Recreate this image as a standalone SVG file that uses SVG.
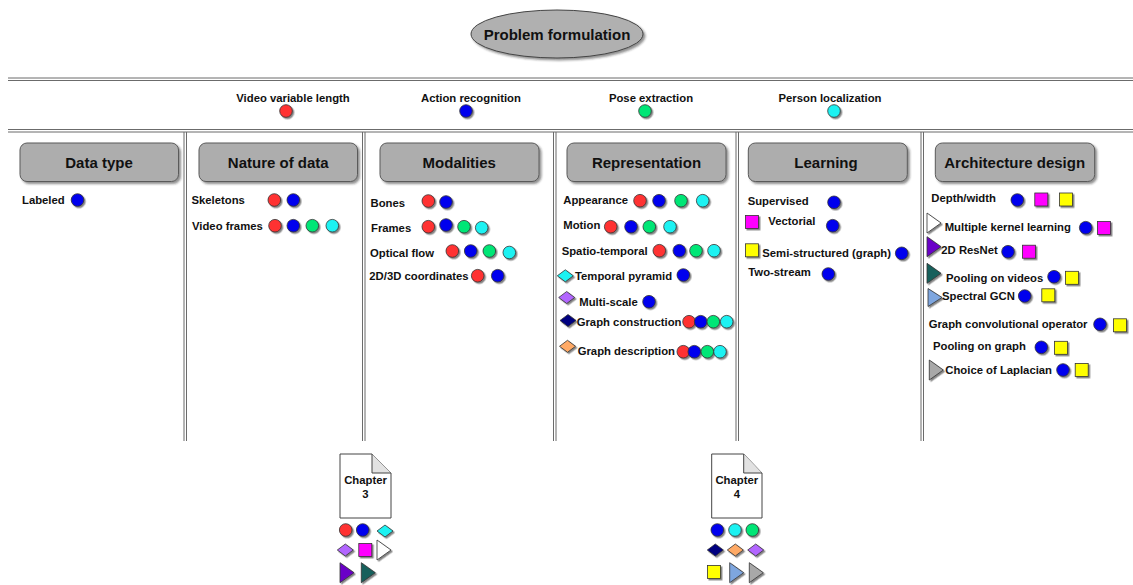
<svg xmlns="http://www.w3.org/2000/svg" xmlns:xlink="http://www.w3.org/1999/xlink" width="1133" height="585" viewBox="0 0 1133 585">
<style>
text{font-family:"Liberation Sans",Arial,sans-serif;font-weight:bold;fill:#111}
.t{font-size:11.3px}
.h{font-size:15px;text-anchor:middle}
.m{text-anchor:middle}
.sep{stroke:#6b6b6b;stroke-width:1;fill:none}
.hdr{fill:#adadad;stroke:#5a5a5a;stroke-width:1}
.sym{stroke:#333;stroke-width:0.8}
.red{fill:#ff3333}.blue{fill:#0000ee}.green{fill:#00e676}.cyan{fill:#1ef2f2}
.mag{fill:#ff00ff}.yel{fill:#ffff00}.navy{fill:#000080}.purp{fill:#b266ff}.orng{fill:#ffaa66}
.vio{fill:#6a00c8}.teal{fill:#17615b}.lblue{fill:#7ea6df}.gray{fill:#a8a8a8}.white{fill:#ffffff}
.doc{fill:#fff;stroke:#444;stroke-width:1}
</style>
<defs>
<filter id="sh" x="-30%" y="-30%" width="170%" height="170%"><feDropShadow dx="1.5" dy="1.5" stdDeviation="0.6" flood-color="#222" flood-opacity="0.55"/></filter>
<filter id="sh2" x="-10%" y="-10%" width="130%" height="140%"><feDropShadow dx="2" dy="2" stdDeviation="0.8" flood-color="#222" flood-opacity="0.5"/></filter>
<circle id="c" r="6.3" class="sym"/>
<rect id="s" x="-6.5" y="-6.5" width="13" height="13" class="sym"/>
<polygon id="d" points="0,-6 8,0 0,6 -8,0" class="sym"/>
<polygon id="tr" points="-7,-10 7,0 -7,10" class="sym"/>
<polygon id="trs" points="-7,-9 7,0 -7,9" class="sym"/>
</defs>

<g id="separators">
<line class="sep" x1="8" y1="78" x2="1133" y2="78"/><line class="sep" x1="8" y1="80.5" x2="1133" y2="80.5"/>
<line class="sep" x1="8" y1="129.5" x2="1133" y2="129.5"/><line class="sep" x1="8" y1="132" x2="1133" y2="132"/>
<line class="sep" x1="184" y1="132" x2="184" y2="441"/><line class="sep" x1="186.5" y1="132" x2="186.5" y2="441"/>
<line class="sep" x1="362.5" y1="132" x2="362.5" y2="441"/><line class="sep" x1="365" y1="132" x2="365" y2="441"/>
<line class="sep" x1="553.5" y1="132" x2="553.5" y2="441"/><line class="sep" x1="556" y1="132" x2="556" y2="441"/>
<line class="sep" x1="736" y1="132" x2="736" y2="441"/><line class="sep" x1="738.5" y1="132" x2="738.5" y2="441"/>
<line class="sep" x1="921" y1="132" x2="921" y2="441"/><line class="sep" x1="923.5" y1="132" x2="923.5" y2="441"/>
</g>

<g id="problem-formulation">
<ellipse cx="557" cy="34" rx="86" ry="24" fill="#b0b0b0" stroke="#444" stroke-width="1" filter="url(#sh2)"/>
<text class="h" x="557" y="39.5">Problem formulation</text>
</g>

<g id="legend">
<g id="legend-video"><text class="t m" x="293" y="102">Video variable length</text><use href="#c" x="286" y="111" class="red" filter="url(#sh)"/></g>
<g id="legend-action"><text class="t m" x="471" y="102">Action recognition</text><use href="#c" x="466" y="111" class="blue" filter="url(#sh)"/></g>
<g id="legend-pose"><text class="t m" x="651" y="102">Pose extraction</text><use href="#c" x="645" y="111" class="green" filter="url(#sh)"/></g>
<g id="legend-person"><text class="t m" x="830" y="102">Person localization</text><use href="#c" x="834" y="111" class="cyan" filter="url(#sh)"/></g>
</g>

<g id="col-data-type">
<rect class="hdr" x="20" y="143" width="158.5" height="38.5" rx="7" filter="url(#sh2)"/>
<text class="h" x="99" y="167.5">Data type</text>
<text class="t" x="22" y="204">Labeled</text>
<use href="#c" x="77.5" y="200" class="blue" filter="url(#sh)"/>
</g>

<g id="col-nature">
<rect class="hdr" x="199" y="143" width="158.5" height="38.5" rx="7" filter="url(#sh2)"/>
<text class="h" x="278.3" y="167.5">Nature of data</text>
<text class="t" x="191.5" y="204">Skeletons</text>
<use href="#c" x="274.3" y="200" class="red" filter="url(#sh)"/><use href="#c" x="293.3" y="200" class="blue" filter="url(#sh)"/>
<text class="t" x="192" y="229.5">Video frames</text>
<use href="#c" x="275" y="225.7" class="red" filter="url(#sh)"/><use href="#c" x="293.3" y="225.7" class="blue" filter="url(#sh)"/><use href="#c" x="312.3" y="225.7" class="green" filter="url(#sh)"/><use href="#c" x="332.3" y="225.7" class="cyan" filter="url(#sh)"/>
</g>

<g id="col-modalities">
<rect class="hdr" x="380" y="143" width="159" height="38.5" rx="7" filter="url(#sh2)"/>
<text class="h" x="459.3" y="167.5">Modalities</text>
<text class="t" x="370.5" y="206.5">Bones</text>
<use href="#c" x="428.3" y="201" class="red" filter="url(#sh)"/><use href="#c" x="446" y="202" class="blue" filter="url(#sh)"/>
<text class="t" x="371" y="231.5">Frames</text>
<use href="#c" x="428.3" y="226.7" class="red" filter="url(#sh)"/><use href="#c" x="446" y="225" class="blue" filter="url(#sh)"/><use href="#c" x="464" y="226.7" class="green" filter="url(#sh)"/><use href="#c" x="481.7" y="227.7" class="cyan" filter="url(#sh)"/>
<text class="t" x="370" y="257">Optical flow</text>
<use href="#c" x="452.3" y="251" class="red" filter="url(#sh)"/><use href="#c" x="470.7" y="251" class="blue" filter="url(#sh)"/><use href="#c" x="489.3" y="251" class="green" filter="url(#sh)"/><use href="#c" x="509.3" y="252.5" class="cyan" filter="url(#sh)"/>
<text class="t" x="369.3" y="279.5">2D/3D coordinates</text>
<use href="#c" x="477.7" y="275.7" class="red" filter="url(#sh)"/><use href="#c" x="497.7" y="275.7" class="blue" filter="url(#sh)"/>
</g>

<g id="col-representation">
<rect class="hdr" x="567" y="143" width="159" height="38.5" rx="7" filter="url(#sh2)"/>
<text class="h" x="646.5" y="167.5">Representation</text>
<text class="t" x="563.3" y="204">Appearance</text>
<use href="#c" x="640" y="200.7" class="red" filter="url(#sh)"/><use href="#c" x="659" y="200.7" class="blue" filter="url(#sh)"/><use href="#c" x="681" y="200.7" class="green" filter="url(#sh)"/><use href="#c" x="702.7" y="200.7" class="cyan" filter="url(#sh)"/>
<text class="t" x="563.3" y="229">Motion</text>
<use href="#c" x="610.7" y="226.7" class="red" filter="url(#sh)"/><use href="#c" x="631" y="226.7" class="blue" filter="url(#sh)"/><use href="#c" x="649.3" y="226.7" class="green" filter="url(#sh)"/><use href="#c" x="670" y="226.7" class="cyan" filter="url(#sh)"/>
<text class="t" x="561.7" y="254.5">Spatio-temporal</text>
<use href="#c" x="659.3" y="250.7" class="red" filter="url(#sh)"/><use href="#c" x="679.3" y="250.7" class="blue" filter="url(#sh)"/><use href="#c" x="696" y="250.7" class="green" filter="url(#sh)"/><use href="#c" x="714" y="250.7" class="cyan" filter="url(#sh)"/>
<use href="#d" x="565.3" y="275.8" class="cyan" filter="url(#sh)"/>
<text class="t" x="575" y="279.5">Temporal pyramid</text>
<use href="#c" x="683.3" y="275" class="blue" filter="url(#sh)"/>
<use href="#d" x="566.7" y="297.5" class="purp" filter="url(#sh)"/>
<text class="t" x="579.3" y="305.5">Multi-scale</text>
<use href="#c" x="649" y="301.7" class="blue" filter="url(#sh)"/>
<use href="#d" x="568" y="320.5" class="navy" filter="url(#sh)"/>
<text class="t" x="576.7" y="325.5">Graph construction</text>
<use href="#c" x="689" y="321.7" class="red" filter="url(#sh)"/><use href="#c" x="700.7" y="321.7" class="blue" filter="url(#sh)"/><use href="#c" x="713.3" y="321.7" class="green" filter="url(#sh)"/><use href="#c" x="726.7" y="321.7" class="cyan" filter="url(#sh)"/>
<use href="#d" x="567.5" y="346.3" class="orng" filter="url(#sh)"/>
<text class="t" x="577.7" y="355">Graph description</text>
<use href="#c" x="683.3" y="351.7" class="red" filter="url(#sh)"/><use href="#c" x="694.3" y="351.7" class="blue" filter="url(#sh)"/><use href="#c" x="707.3" y="351.7" class="green" filter="url(#sh)"/><use href="#c" x="720" y="351.7" class="cyan" filter="url(#sh)"/>
</g>

<g id="col-learning">
<rect class="hdr" x="748.3" y="143" width="159" height="38.5" rx="7" filter="url(#sh2)"/>
<text class="h" x="826" y="167.5">Learning</text>
<text class="t" x="747.7" y="205">Supervised</text>
<use href="#c" x="834" y="202.3" class="blue" filter="url(#sh)"/>
<use href="#s" x="752" y="222" class="mag" filter="url(#sh)"/>
<text class="t" x="768.3" y="224.5">Vectorial</text>
<use href="#c" x="832.7" y="225.7" class="blue" filter="url(#sh)"/>
<use href="#s" x="752" y="250.3" class="yel" filter="url(#sh)"/>
<text class="t" x="762.3" y="257">Semi-structured (graph)</text>
<use href="#c" x="901.7" y="253.3" class="blue" filter="url(#sh)"/>
<text class="t" x="748.3" y="276">Two-stream</text>
<use href="#c" x="828.3" y="274" class="blue" filter="url(#sh)"/>
</g>

<g id="col-architecture">
<rect class="hdr" x="935.3" y="143" width="159.4" height="38.5" rx="7" filter="url(#sh2)"/>
<text class="h" x="1014.7" y="167.5">Architecture design</text>
<text class="t" x="931.3" y="202">Depth/width</text>
<use href="#c" x="1017.3" y="200" class="blue" filter="url(#sh)"/><use href="#s" x="1041.3" y="199.5" class="mag" filter="url(#sh)"/><use href="#s" x="1066" y="199.5" class="yel" filter="url(#sh)"/>
<use href="#tr" x="934" y="223" class="white" filter="url(#sh)"/>
<text class="t" x="944.7" y="230.5">Multiple kernel learning</text>
<use href="#c" x="1085.7" y="227.7" class="blue" filter="url(#sh)"/><use href="#s" x="1104" y="228" class="mag" filter="url(#sh)"/>
<use href="#tr" x="934" y="246.7" class="vio" filter="url(#sh)"/>
<text class="t" x="941.3" y="254">2D ResNet</text>
<use href="#c" x="1008" y="251.7" class="blue" filter="url(#sh)"/><use href="#s" x="1029" y="251.7" class="mag" filter="url(#sh)"/>
<use href="#tr" x="934" y="273.3" class="teal" filter="url(#sh)"/>
<text class="t" x="946" y="281.5">Pooling on videos</text>
<use href="#c" x="1054" y="276.7" class="blue" filter="url(#sh)"/><use href="#s" x="1072" y="277.8" class="yel" filter="url(#sh)"/>
<use href="#trs" x="935" y="297.5" class="lblue" filter="url(#sh)"/>
<text class="t" x="942" y="299.5">Spectral GCN</text>
<use href="#c" x="1024.7" y="296" class="blue" filter="url(#sh)"/><use href="#s" x="1048.3" y="295.3" class="yel" filter="url(#sh)"/>
<text class="t" x="928.7" y="327.5">Graph convolutional operator</text>
<use href="#c" x="1100" y="324.3" class="blue" filter="url(#sh)"/><use href="#s" x="1120" y="325.3" class="yel" filter="url(#sh)"/>
<text class="t" x="933" y="350">Pooling on graph</text>
<use href="#c" x="1041.3" y="347.3" class="blue" filter="url(#sh)"/><use href="#s" x="1061" y="347.8" class="yel" filter="url(#sh)"/>
<use href="#tr" x="936.3" y="370" class="gray" filter="url(#sh)"/>
<text class="t" x="945.3" y="374">Choice of Laplacian</text>
<use href="#c" x="1063" y="370" class="blue" filter="url(#sh)"/><use href="#s" x="1081.7" y="370" class="yel" filter="url(#sh)"/>
</g>

<g id="chapter-3">
<path class="doc" d="M340,454 H372 L391,473 V518 H340 Z"/>
<path d="M372,454 V473 H391" fill="#e2e2e2" stroke="#444" stroke-width="1"/>
<text class="t m" x="365.5" y="484">Chapter</text>
<text class="t m" x="365.5" y="497.5">3</text>
<use href="#c" x="345.7" y="530" class="red" filter="url(#sh)"/><use href="#c" x="362.7" y="530" class="blue" filter="url(#sh)"/><use href="#d" x="385" y="531" class="cyan" filter="url(#sh)"/>
<use href="#d" x="345.3" y="550" class="purp" filter="url(#sh)"/><use href="#s" x="365.3" y="550" class="mag" filter="url(#sh)"/><use href="#tr" x="384" y="550" class="white" filter="url(#sh)"/>
<use href="#tr" x="347" y="572.7" class="vio" filter="url(#sh)"/><use href="#tr" x="368.3" y="572.7" class="teal" filter="url(#sh)"/>
</g>

<g id="chapter-4">
<path class="doc" d="M711.7,454 H743.7 L762,473 V518 H711.7 Z"/>
<path d="M743.7,454 V473 H762" fill="#e2e2e2" stroke="#444" stroke-width="1"/>
<text class="t m" x="736.8" y="484">Chapter</text>
<text class="t m" x="736.8" y="497.5">4</text>
<use href="#c" x="717.3" y="530" class="blue" filter="url(#sh)"/><use href="#c" x="735" y="530" class="cyan" filter="url(#sh)"/><use href="#c" x="752.3" y="530" class="green" filter="url(#sh)"/>
<use href="#d" x="715.3" y="550" class="navy" filter="url(#sh)"/><use href="#d" x="735.3" y="550" class="orng" filter="url(#sh)"/><use href="#d" x="755.7" y="550" class="purp" filter="url(#sh)"/>
<use href="#s" x="714" y="572" class="yel" filter="url(#sh)"/><use href="#tr" x="736.7" y="572.7" class="lblue" filter="url(#sh)"/><use href="#tr" x="756.3" y="572.7" class="gray" filter="url(#sh)"/>
</g>
</svg>
